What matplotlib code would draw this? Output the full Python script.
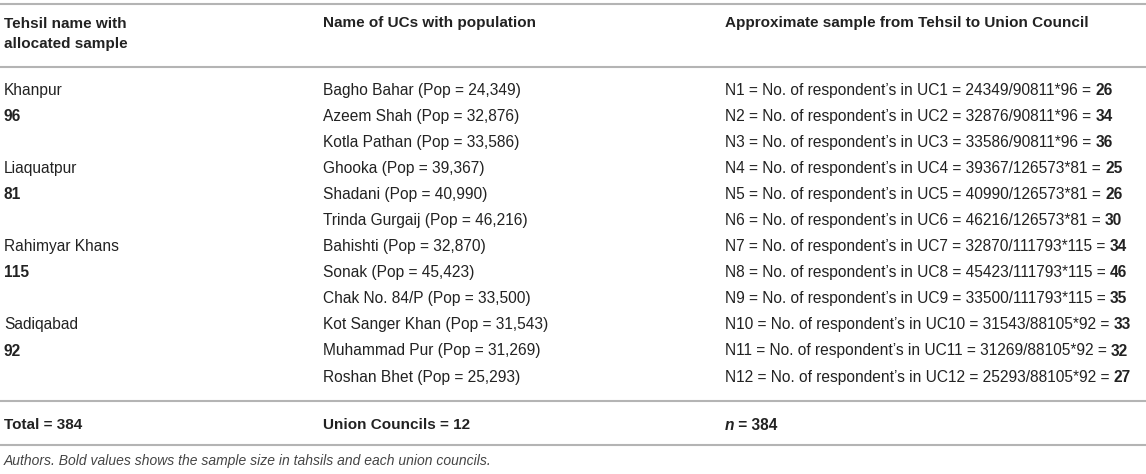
import matplotlib
matplotlib.use('Agg')
import matplotlib.pyplot as plt

plt.rcParams['font.family'] = ['Liberation Sans', 'DejaVu Sans']

# datos de la tabla
tehsiles = ['Khanpur', 'Liaquatpur', 'Rahimyar Khans', 'Sadiqabad']
muestra_tehsil = [96, 81, 115, 92]
pob_tehsil = [90811, 126573, 111793, 88105]
ucs = ['Bagho Bahar', 'Azeem Shah', 'Kotla Pathan',
       'Ghooka', 'Shadani', 'Trinda Gurgaij',
       'Bahishti', 'Sonak', 'Chak No. 84/P',
       'Kot Sanger Khan', 'Muhammad Pur', 'Roshan Bhet']
pob_uc = [24349, 32876, 33586, 39367, 40990, 46216,
          32870, 45423, 33500, 31543, 31269, 25293]
muestra_uc = [26, 34, 36, 25, 26, 30, 34, 46, 35, 33, 32, 27]
encabezados = ['Tehsil name with\nallocated sample', 'Name of UCs with population',
               'Approximate sample from Tehsil to Union Council']
total_muestra = 384
total_ucs = 12
nota = 'Authors. Bold values shows the sample size in tahsils and each union councils.'

W, H = 1146, 474
fig = plt.figure(figsize=(W / 100, H / 100), dpi=100)
ax = fig.add_axes([0, 0, 1, 1])
ax.set_xlim(0, W)
ax.set_ylim(H, 0)
ax.axis('off')

color_txt = '#222222'
color_linea = '#b4b4b4'
fs = 11.2     # cuerpo
fs_h = 11     # encabezado
cols = [4, 323, 725]
y0 = 90       # primera fila
dy = 26.1     # separación entre filas


def texto_partes(x, y, partes):
    '''Dibuja varias partes de texto una detrás de otra (normal / negrita).'''
    t = ax.text(x, y, partes[0][0], fontsize=fs, color=color_txt, va='center',
                ha='left', **partes[0][1])
    for s, kw in partes[1:]:
        t = ax.annotate(s, xy=(1, 0), xycoords=t, va='bottom', ha='left',
                        fontsize=fs, color=color_txt, **kw)
    return t


for y in [4, 67, 401, 445]:
    ax.plot([0, W], [y, y], color=color_linea, lw=1.5, solid_capstyle='butt')

# encabezado
ax.text(cols[0], 34, encabezados[0], fontsize=fs_h, fontweight='bold', color=color_txt,
        va='center', ha='left', linespacing=1.5)
for c, h in zip(cols[1:], encabezados[1:]):
    ax.text(c, 23, h, fontsize=fs_h, fontweight='bold', color=color_txt, va='center', ha='left')

# filas
for i, (uc, p) in enumerate(zip(ucs, pob_uc)):
    y = y0 + i * dy
    ax.text(cols[1], y, f'{uc} (Pop = {p:,})', fontsize=fs, color=color_txt, va='center', ha='left')
    j = i // 3
    s = f'N{i + 1} = No. of respondent\u2019s in UC{i + 1} = {p}/{pob_tehsil[j]}*{muestra_tehsil[j]} = '
    texto_partes(cols[2], y, [(s, {}), (str(muestra_uc[i]), {'fontweight': 'bold'})])

for j, (t, m) in enumerate(zip(tehsiles, muestra_tehsil)):
    y = y0 + 3 * j * dy
    ax.text(cols[0], y, t, fontsize=fs, color=color_txt, va='center', ha='left')
    ax.text(cols[0], y + dy, str(m), fontsize=fs, fontweight='bold', color=color_txt,
            va='center', ha='left')

# fila de totales
ax.text(cols[0], 425, f'Total = {total_muestra}', fontsize=fs_h, fontweight='bold',
        color=color_txt, va='center', ha='left')
ax.text(cols[1], 425, f'Union Councils = {total_ucs}', fontsize=fs_h, fontweight='bold',
        color=color_txt, va='center', ha='left')
texto_partes(cols[2], 425, [('n', {'fontweight': 'bold', 'fontstyle': 'italic'}),
                            (f' = {total_muestra}', {'fontweight': 'bold'})])

ax.text(cols[0], 461, nota, fontsize=10, fontstyle='italic', color='#444444',
        va='center', ha='left')

fig.savefig('out.png', dpi=100)
